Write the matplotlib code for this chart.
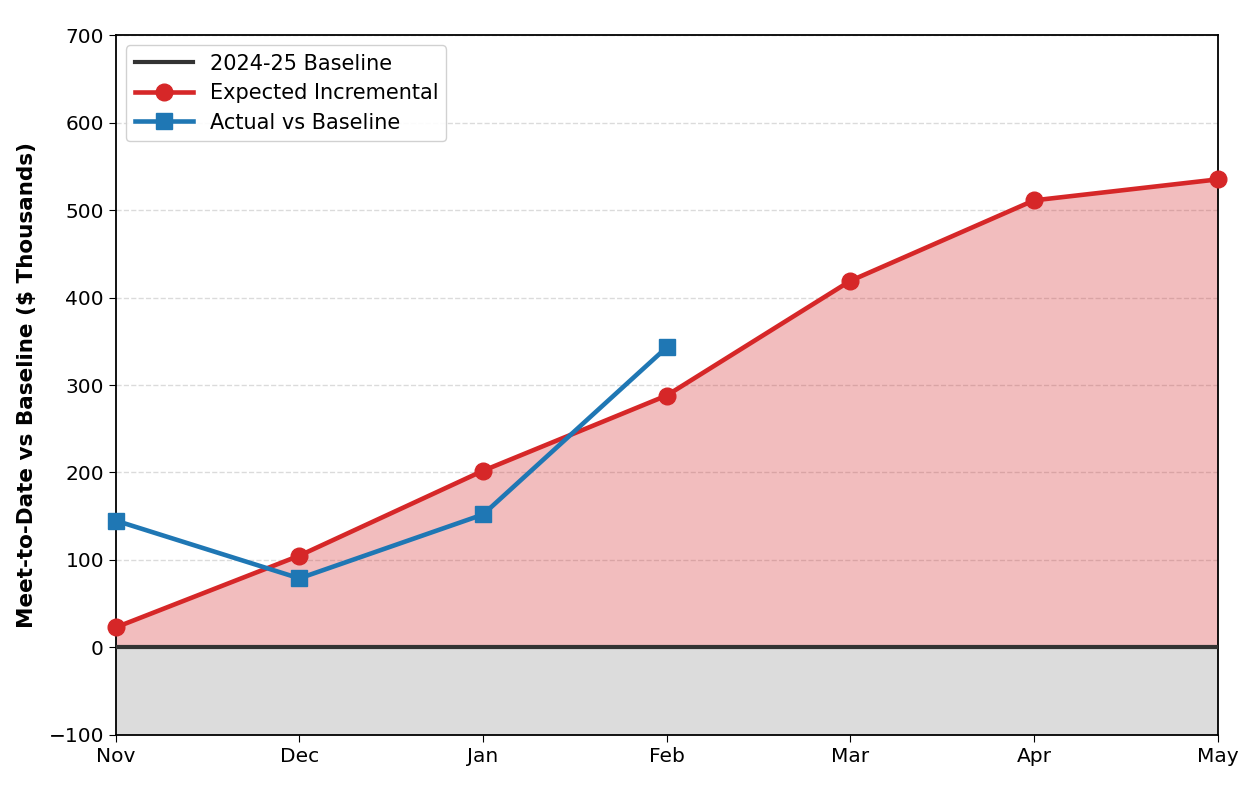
import matplotlib
matplotlib.use("Agg")
import matplotlib.pyplot as plt
import numpy as np

months = ["Nov", "Dec", "Jan", "Feb", "Mar", "Apr", "May"]
expected = [23, 105, 202, 288, 419, 511, 535]
actual = [145, 79, 152, 343]
yticks = [-100, 0, 100, 200, 300, 400, 500, 600, 700]

fig = plt.figure(figsize=(12.45, 8.01), dpi=100)
ax = fig.add_axes([0.093, 0.0824, 0.885, 0.8739])

x = np.arange(len(months))
xa = np.arange(len(actual))

ax.axhspan(-100, 0, color="#dcdcdc", zorder=0, lw=0)
ax.fill_between(x, 0, expected, color="#d62728", alpha=0.3, lw=0, zorder=1)
ax.axhline(0, color="#333333", lw=3, label="2024-25 Baseline", zorder=3)
ax.plot(x, expected, color="#d62728", lw=3.3, marker="o", markersize=12,
        label="Expected Incremental", zorder=4, clip_on=False)
ax.plot(xa, actual, color="#1f77b4", lw=3.3, marker="s", markersize=12,
        label="Actual vs Baseline", zorder=5, clip_on=False)

ax.set_xlim(0, len(months) - 1)
ax.set_ylim(-100, 700)
ax.set_xticks(x)
ax.set_xticklabels(months)
ax.set_yticks(yticks)
ax.yaxis.grid(True, linestyle="--", color="#cccccc", alpha=0.7, lw=1)
ax.set_axisbelow(True)
ax.tick_params(labelsize=14.5, length=5)
ax.set_ylabel("Meet-to-Date vs Baseline ($ Thousands)", fontsize=15.5, fontweight="bold",
              labelpad=8)
for s in ax.spines.values():
    s.set_linewidth(1.3)

ax.legend(loc="upper left", fontsize=15, framealpha=0.9, handlelength=2.8,
          labelspacing=0.45)

fig.savefig("out.png", dpi=100)
